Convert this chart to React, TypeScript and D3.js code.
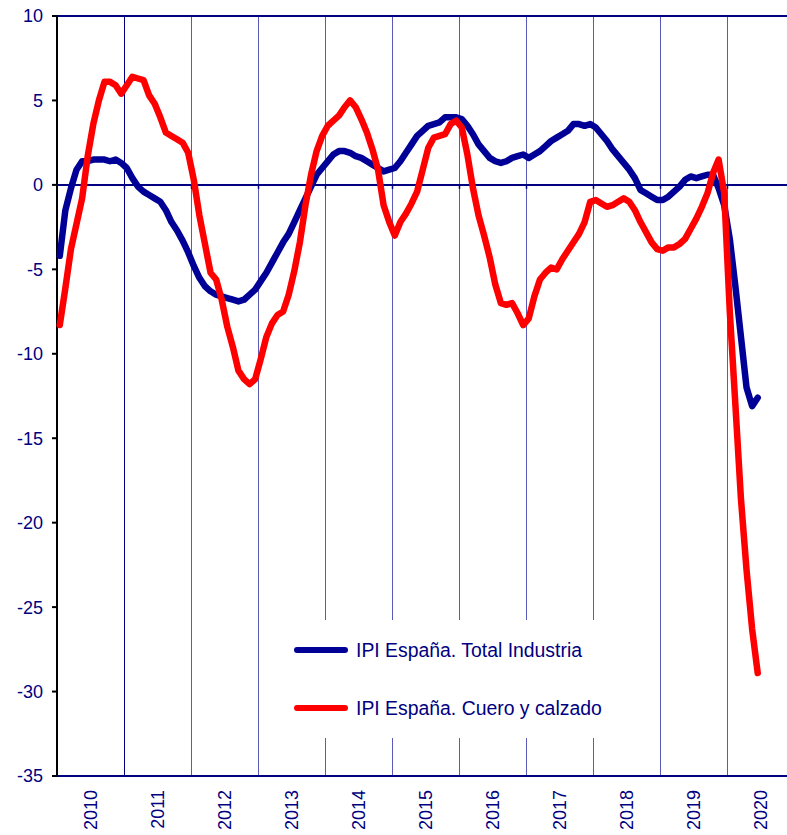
import React from "react";
import * as d3 from "d3";

const startYear = 2010;
const yearTicks = [2010, 2011, 2012, 2013, 2014, 2015, 2016, 2017, 2018, 2019, 2020];
const yTicks = [10, 5, 0, -5, -10, -15, -20, -25, -30, -35];

const seriesNames = ["IPI España. Total Industria", "IPI España. Cuero y calzado"];

// Monthly values, Jan 2010 - Jun 2020
const totalIndustria = [
  -4.2, -1.5, -0.2, 0.9, 1.4, 1.4, 1.5, 1.5, 1.5, 1.4, 1.5, 1.3,
  1.0, 0.4, -0.1, -0.4, -0.6, -0.8, -1.0, -1.5, -2.2, -2.7, -3.3, -4.0,
  -4.8, -5.5, -6.0, -6.3, -6.5, -6.6, -6.7, -6.8, -6.9, -6.8, -6.5, -6.2,
  -5.7, -5.2, -4.6, -4.0, -3.4, -2.9, -2.2, -1.5, -0.8, -0.1, 0.6, 1.0,
  1.4, 1.8, 2.0, 2.0, 1.9, 1.7, 1.6, 1.4, 1.2, 1.0, 0.8, 0.9,
  1.0, 1.4, 1.9, 2.4, 2.9, 3.2, 3.5, 3.6, 3.7, 4.0, 4.0, 4.0,
  3.9, 3.5, 3.0, 2.4, 2.0, 1.6, 1.4, 1.3, 1.4, 1.6, 1.7, 1.8,
  1.6, 1.8, 2.0, 2.3, 2.6, 2.8, 3.0, 3.2, 3.6, 3.6, 3.5, 3.6,
  3.4, 3.0, 2.6, 2.1, 1.7, 1.3, 0.9, 0.4, -0.3, -0.5, -0.7, -0.9,
  -0.9, -0.7, -0.4, -0.1, 0.3, 0.5, 0.4, 0.5, 0.6, 0.6, -0.2, -1.2,
  -3.2, -6.0, -9.0, -12.0, -13.1, -12.6,
];

const cueroCalzado = [
  -8.3, -6.1, -3.8, -2.3, -0.8, 1.7, 3.6, 5.0, 6.1, 6.1, 5.9, 5.4,
  5.9, 6.4, 6.3, 6.2, 5.3, 4.8, 4.0, 3.1, 2.9, 2.7, 2.5, 1.9,
  0.3, -1.8, -3.5, -5.2, -5.6, -6.8, -8.4, -9.6, -11.0, -11.5, -11.8, -11.5,
  -10.3, -9.0, -8.2, -7.7, -7.5, -6.5, -5.1, -3.4, -1.2, 0.6, 2.0, 2.9,
  3.5, 3.8, 4.1, 4.6, 5.0, 4.6, 3.9, 3.1, 2.1, 0.9, -1.2, -2.2,
  -3.0, -2.2, -1.7, -1.1, -0.4, 0.9, 2.2, 2.8, 2.9, 3.0, 3.6, 3.8,
  3.4, 1.8, -0.2, -1.8, -3.0, -4.3, -5.9, -7.0, -7.1, -7.0, -7.6, -8.3,
  -7.9, -6.6, -5.6, -5.2, -4.9, -5.0, -4.4, -3.9, -3.4, -2.9, -2.2, -1.0,
  -0.9, -1.1, -1.3, -1.2, -1.0, -0.8, -1.0, -1.5, -2.2, -2.8, -3.4, -3.8,
  -3.9, -3.7, -3.7, -3.5, -3.2, -2.6, -2.0, -1.3, -0.5, 0.7, 1.5, -0.5,
  -7.5, -13.0, -18.6, -22.8, -26.3, -28.9,
];

const W = 787;
const H = 835;
const left = 57;
const right = 787;
const top = 16;
const bottom = 776;
const yearWidth = 67;
const navy = "#000080";
const font = "'Liberation Sans', Arial, Helvetica, sans-serif";

export default function App() {
  const x = d3.scaleLinear().domain([startYear, startYear + 1]).range([left, left + yearWidth]);
  const y = d3.scaleLinear().domain([-35, 10]).range([bottom, top]);
  const monthX = (i: number) => x(startYear + (i + 0.5) / 12);
  const line = d3
    .line<number>()
    .x((_, i) => monthX(i))
    .y((d) => y(d))
    .curve(d3.curveLinear);

  const gridYears = yearTicks.slice(1);
  const legendBox = { x0: 264, x1: 655, y0: 620, y1: 738 };
  const brokenYears = [2014, 2015, 2016, 2017, 2018];

  return (
    <svg
      width={W}
      height={H}
      style={{ position: "absolute", left: 0, top: 0, background: "#fff" }}
      fontFamily={font}
    >
      <rect x={0} y={0} width={W} height={H} fill="#fff" />
      {/* vertical year gridlines */}
      {gridYears.map((yr, k) => {
        const gx = Math.round(x(yr)) + 0.5;
        const color = k === 0 ? navy : "#5a5ab8";
        if (brokenYears.includes(yr)) {
          return (
            <g key={yr}>
              <line x1={gx} x2={gx} y1={top} y2={legendBox.y0} stroke={color} strokeWidth={1} />
              <line x1={gx} x2={gx} y1={legendBox.y1} y2={bottom} stroke={color} strokeWidth={1} />
            </g>
          );
        }
        return <line key={yr} x1={gx} x2={gx} y1={top} y2={bottom} stroke={color} strokeWidth={1} />;
      })}
      {/* top border */}
      <line x1={left} x2={right} y1={top} y2={top} stroke={navy} strokeWidth={2} />
      {/* zero line */}
      <line x1={left} x2={right} y1={y(0)} y2={y(0)} stroke={navy} strokeWidth={2} />
      {gridYears.map((yr) => {
        const gx = Math.round(x(yr)) + 0.5;
        return <line key={"zt" + yr} x1={gx} x2={gx} y1={y(0)} y2={y(0) + 4} stroke={navy} strokeWidth={1.5} />;
      })}
      {/* bottom axis */}
      <line x1={left} x2={right} y1={bottom} y2={bottom} stroke={navy} strokeWidth={2} />
      {/* left axis */}
      <line x1={left} x2={left} y1={top - 1} y2={bottom + 1} stroke="#000" strokeWidth={2} />
      {yTicks.map((t) => (
        <g key={t}>
          <line x1={left - 5} x2={left} y1={y(t)} y2={y(t)} stroke="#000" strokeWidth={2} />
          <text
            x={43}
            y={y(t)}
            dy="0.36em"
            textAnchor="end"
            fontSize={18}
            fill={navy}
          >
            {t}
          </text>
        </g>
      ))}
      {/* x labels */}
      {yearTicks.map((yr) => (
        <text
          key={yr}
          transform={`translate(${x(yr + 0.5)},${bottom + 14}) rotate(-90)`}
          textAnchor="end"
          dy="0.36em"
          fontSize={18}
          fill={navy}
        >
          {yr}
        </text>
      ))}
      {/* series */}
      <path
        d={line(totalIndustria) || ""}
        fill="none"
        stroke="#000096"
        strokeWidth={6.5}
        strokeLinejoin="round"
        strokeLinecap="round"
      />
      <path
        d={line(cueroCalzado) || ""}
        fill="none"
        stroke="#ff0000"
        strokeWidth={6.5}
        strokeLinejoin="round"
        strokeLinecap="round"
      />
      {/* legend */}
      {seriesNames.map((name, k) => {
        const ly = k === 0 ? 650 : 708;
        return (
          <g key={name}>
            <line
              x1={297}
              x2={345}
              y1={ly}
              y2={ly}
              stroke={k === 0 ? "#000096" : "#ff0000"}
              strokeWidth={6}
              strokeLinecap="round"
            />
            <text x={356} y={ly} dy="0.36em" fontSize={19.4} fill={navy}>
              {name}
            </text>
          </g>
        );
      })}
    </svg>
  );
}
